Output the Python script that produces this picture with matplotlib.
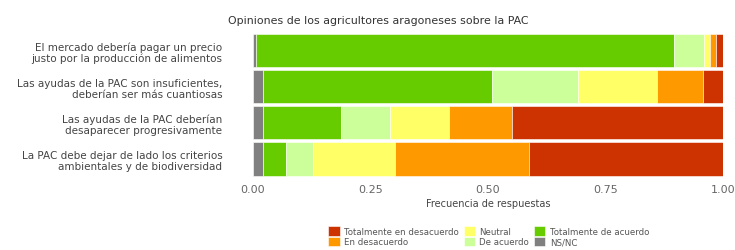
import numpy as np
import matplotlib.pyplot as plt

preguntas = ['El mercado debería pagar un precio\njusto por la producción de alimentos',
             'Las ayudas de la PAC son insuficientes,\ndeberían ser más cuantiosas',
             'Las ayudas de la PAC deberían\ndesaparecer progresivamente',
             'La PAC debe dejar de lado los criterios\nambientales y de biodiversidad']

# orden de apilado de izquierda a derecha
ns_nc = [0.006, 0.021, 0.021, 0.021]
tot_acuerdo = [0.889, 0.487, 0.166, 0.049]
de_acuerdo = [0.064, 0.183, 0.104, 0.057]
neutral = [0.013, 0.168, 0.126, 0.176]
en_desacuerdo = [0.013, 0.098, 0.134, 0.284]
tot_desacuerdo = [0.015, 0.043, 0.449, 0.413]

series = [('NS/NC', ns_nc, '#808080'),
          ('Totalmente de acuerdo', tot_acuerdo, '#66CC00'),
          ('De acuerdo', de_acuerdo, '#CCFF99'),
          ('Neutral', neutral, '#FFFF66'),
          ('En desacuerdo', en_desacuerdo, '#FF9900'),
          ('Totalmente en desacuerdo', tot_desacuerdo, '#CC3300')]

fig = plt.figure(figsize=(7.35, 2.51), dpi=100)
ax = fig.add_axes([0.344, 0.291, 0.640, 0.574])

y = np.arange(len(preguntas))
izq = np.zeros(len(preguntas))
barras = {}
for nombre, vals, col in series:
    b = ax.barh(y, vals, left=izq, height=0.92, color=col, edgecolor='white', linewidth=0.4)
    barras[nombre] = b
    izq += np.array(vals)

ax.set_ylim(3.5, -0.5)
ax.set_xlim(0, 1)
ax.set_yticks(y)
ax.set_yticklabels(preguntas, fontsize=7.5, color='#444444', linespacing=1.1)
ax.set_xticks([0, 0.25, 0.5, 0.75, 1.0])
ax.set_xticklabels(['0.00', '0.25', '0.50', '0.75', '1.00'], fontsize=8, color='#666666')
ax.tick_params(length=0, pad=5)
ax.tick_params(axis='y', pad=22)
for s in ax.spines.values():
    s.set_visible(False)
ax.set_xlabel('Frecuencia de respuestas', fontsize=7, color='#444444', labelpad=3)
fig.text(0.514, 0.905, 'Opiniones de los agricultores aragoneses sobre la PAC',
         ha='center', fontsize=7.9, color='#333333')

orden = ['Totalmente en desacuerdo', 'En desacuerdo', 'Neutral', 'De acuerdo',
         'Totalmente de acuerdo', 'NS/NC']
leg = fig.legend([barras[k] for k in orden], orden, ncol=3, loc='center',
                 bbox_to_anchor=(0.665, 0.055), frameon=False, fontsize=6.2,
                 handlelength=1.3, handleheight=1.3, columnspacing=0.6,
                 handletextpad=0.5, labelspacing=0.1)
for t in leg.get_texts():
    t.set_color('#555555')

fig.savefig('out.png', dpi=100)
